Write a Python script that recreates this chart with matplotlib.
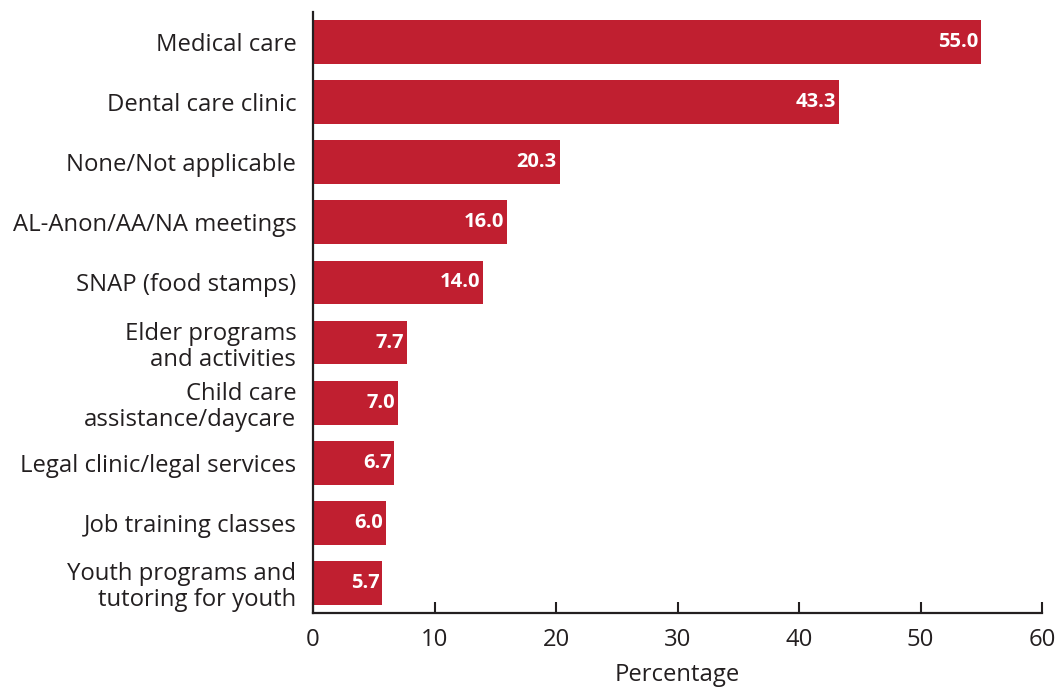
import numpy as np
from matplotlib import pyplot as plt

categories = ['Medical care', 'Dental care clinic', 'None/Not applicable',
              'AL-Anon/AA/NA meetings', 'SNAP (food stamps)',
              'Elder programs\nand activities', 'Child care\nassistance/daycare',
              'Legal clinic/legal services', 'Job training classes',
              'Youth programs and\ntutoring for youth']
values = [55.0, 43.3, 20.3, 16.0, 14.0, 7.7, 7.0, 6.7, 6.0, 5.7]
xticks = [0, 10, 20, 30, 40, 50, 60]

plt.rcParams['font.family'] = ['Open Sans', 'DejaVu Sans']
dark = '#231f20'
red = '#c01f30'

fig = plt.figure(figsize=(10.55, 6.89), dpi=100)
ax = fig.add_axes([0.2967, 0.1103, 0.691, 0.8723])

y = np.arange(len(categories))
ax.barh(y, values, height=0.73, color=red)
for yi, v in zip(y, values):
    ax.text(v - 0.25, yi, '{:.1f}'.format(v), ha='right', va='center',
            color='white', fontweight='bold', fontsize=14.5)

ax.set_ylim(len(categories) - 0.5, -0.5)
ax.set_xlim(0, 60)
ax.set_yticks(y)
ax.set_yticklabels(categories, fontsize=17.2, color=dark, linespacing=1.12)
ax.set_xticks(xticks)
ax.set_xticklabels([str(t) for t in xticks], fontsize=17.2, color=dark)
ax.set_xlabel('Percentage', fontsize=17.2, color=dark, labelpad=8)
ax.tick_params(axis='y', length=0, pad=12)
ax.tick_params(axis='x', direction='in', length=8, width=1.5, color=dark, pad=11)
for s in ['top', 'right']:
    ax.spines[s].set_visible(False)
for s in ['left', 'bottom']:
    ax.spines[s].set_linewidth(1.6)
    ax.spines[s].set_color(dark)

fig.savefig('out.png', dpi=100)
